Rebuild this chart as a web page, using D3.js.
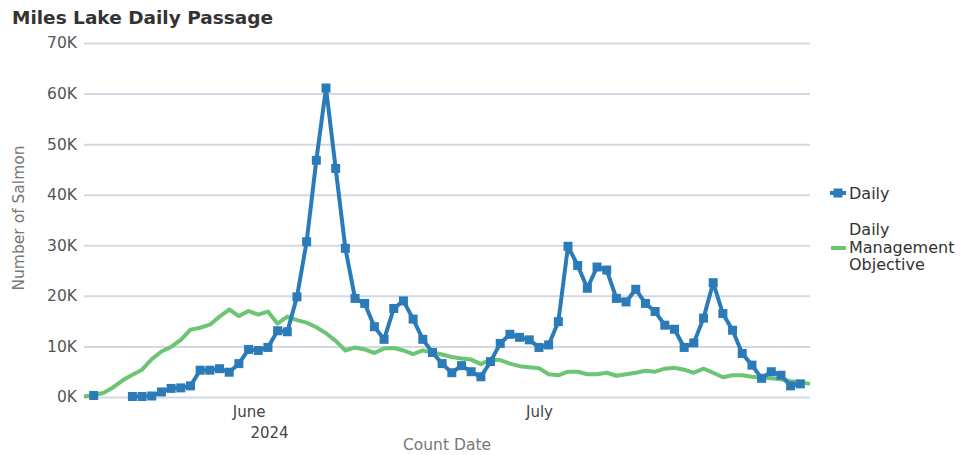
<!DOCTYPE html>
<html>
<head>
<meta charset="utf-8">
<script src="https://cdn.jsdelivr.net/npm/d3@7"></script>
<style>
  body { margin: 0; background: #fff; }
  svg { font-family: "DejaVu Sans", Verdana, sans-serif; }
</style>
</head>
<body>
<script>
// first day shown on the axis; each value below is one day after the previous
var startDate = new Date(2024, 4, 15);

// Daily passage (fish), May 15 .. Jul 28; null = no count
var daily = [null, 300, null, null, null, 100, 100, 200, 1000, 1700, 1800, 2200,
  5300, 5300, 5600, 4900, 6600, 9400, 9200, 9800, 13100, 12900, 19800, 30700,
  46800, 61100, 45200, 29400, 19500, 18500, 13900, 11400, 17500, 19000, 15400,
  11400, 8800, 6600, 4800, 6200, 5000, 4000, 7000, 10600, 12400, 11800, 11300,
  9800, 10300, 14900, 29800, 26000, 21500, 25700, 25100, 19500, 18800, 21300,
  18500, 16900, 14200, 13400, 9800, 10700, 15600, 22600, 16500, 13200, 8600,
  6300, 3700, 5000, 4300, 2200, 2600];

// Daily management objective, May 15 .. Jul 29
var objective = [100, 400, 800, 1900, 3300, 4400, 5400, 7500, 9000, 9900, 11300,
  13300, 13700, 14300, 15900, 17300, 16000, 17000, 16300, 16900, 14500, 15900,
  15200, 14700, 13800, 12600, 11100, 9200, 9800, 9400, 8700, 9600, 9700, 9200,
  8500, 9200, 8800, 8400, 7900, 7600, 7400, 6500, 7400, 7300, 6600, 6100, 5900,
  5700, 4500, 4300, 5000, 5000, 4500, 4500, 4800, 4200, 4500, 4800, 5200, 5000,
  5600, 5800, 5400, 4800, 5600, 4800, 3900, 4300, 4300, 4000, 3800, 3700, 3500,
  3100, 2900, 2600];

var yTicks = [0, 10000, 20000, 30000, 40000, 50000, 60000, 70000];
var monthTicks = [new Date(2024, 5, 1), new Date(2024, 6, 1)];

function dayOf(i) { return d3.timeDay.offset(startDate, i); }

var svg = d3.select("body").append("svg")
    .attr("width", 960)
    .attr("height", 455);

var x = d3.scaleTime()
    .domain([startDate, new Date(2024, 6, 29)])
    .range([84, 810]);
var y = d3.scaleLinear()
    .domain([0, 70000])
    .range([397, 43]);

svg.append("text")
    .attr("x", 12).attr("y", 24)
    .attr("font-size", 18.5).attr("font-weight", "bold")
    .attr("fill", "#333")
    .text("Miles Lake Daily Passage");

// y grid + labels
var yAxis = svg.append("g")
    .attr("transform", "translate(84,0)")
    .call(d3.axisLeft(y).tickValues(yTicks).tickSize(-726).tickPadding(7)
        .tickFormat(function (d) { return (d / 1000) + "K"; }));
yAxis.select(".domain").remove();
yAxis.selectAll("line").attr("stroke", "#d3d9e4").attr("stroke-width", 2);
yAxis.selectAll("text").attr("font-size", 15.5).attr("fill", "#555")
    .attr("font-family", "DejaVu Sans");

svg.append("text")
    .attr("transform", "translate(24,218) rotate(-90)")
    .attr("text-anchor", "middle")
    .attr("font-size", 15.5).attr("fill", "#777")
    .text("Number of Salmon");

// x axis labels
var xAxis = svg.append("g")
    .attr("transform", "translate(0,397)")
    .call(d3.axisBottom(x).tickValues(monthTicks).tickSize(0).tickPadding(9)
        .tickFormat(d3.timeFormat("%B")));
xAxis.select(".domain").remove();
xAxis.selectAll("text").attr("font-size", 15).attr("fill", "#444")
    .attr("font-family", "DejaVu Sans");

svg.append("text")
    .attr("x", x(monthTicks[0]) + 21).attr("y", 438)
    .attr("text-anchor", "middle")
    .attr("font-size", 15).attr("fill", "#444")
    .text("2024");

svg.append("text")
    .attr("x", 447).attr("y", 450)
    .attr("text-anchor", "middle")
    .attr("font-size", 15.5).attr("fill", "#777")
    .text("Count Date");

var blue = "#2b7bb9", green = "#6cc573";

var objLine = d3.line()
    .x(function (d, i) { return x(dayOf(i)); })
    .y(function (d) { return y(d); });
svg.append("path")
    .datum(objective)
    .attr("fill", "none").attr("stroke", green).attr("stroke-width", 4)
    .attr("stroke-linejoin", "round")
    .attr("d", objLine);

var dailyLine = d3.line()
    .defined(function (d) { return d != null; })
    .x(function (d, i) { return x(dayOf(i)); })
    .y(function (d) { return y(d); });
svg.append("path")
    .datum(daily)
    .attr("fill", "none").attr("stroke", blue).attr("stroke-width", 4)
    .attr("stroke-linejoin", "round")
    .attr("d", dailyLine);

svg.append("g").selectAll("rect")
    .data(daily.map(function (v, i) { return { v: v, i: i }; })
        .filter(function (d) { return d.v != null; }))
  .enter().append("rect")
    .attr("x", function (d) { return x(dayOf(d.i)) - 4.5; })
    .attr("y", function (d) { return y(d.v) - 4.5; })
    .attr("width", 9).attr("height", 9)
    .attr("fill", blue);

// legend
var lg = svg.append("g").attr("font-size", 16).attr("fill", "#333");
lg.append("line").attr("x1", 830).attr("x2", 846).attr("y1", 193).attr("y2", 193)
    .attr("stroke", blue).attr("stroke-width", 4);
lg.append("rect").attr("x", 833.5).attr("y", 188.5).attr("width", 9).attr("height", 9)
    .attr("fill", blue);
lg.append("text").attr("x", 849).attr("y", 199).text("Daily");
lg.append("line").attr("x1", 831).attr("x2", 846).attr("y1", 248).attr("y2", 248)
    .attr("stroke", green).attr("stroke-width", 4);
var t = lg.append("text").attr("x", 849).attr("y", 235);
t.append("tspan").attr("x", 849).attr("dy", 0).text("Daily");
t.append("tspan").attr("x", 849).attr("dy", 17.5).text("Management");
t.append("tspan").attr("x", 849).attr("dy", 17.5).text("Objective");
</script>
</body>
</html>
